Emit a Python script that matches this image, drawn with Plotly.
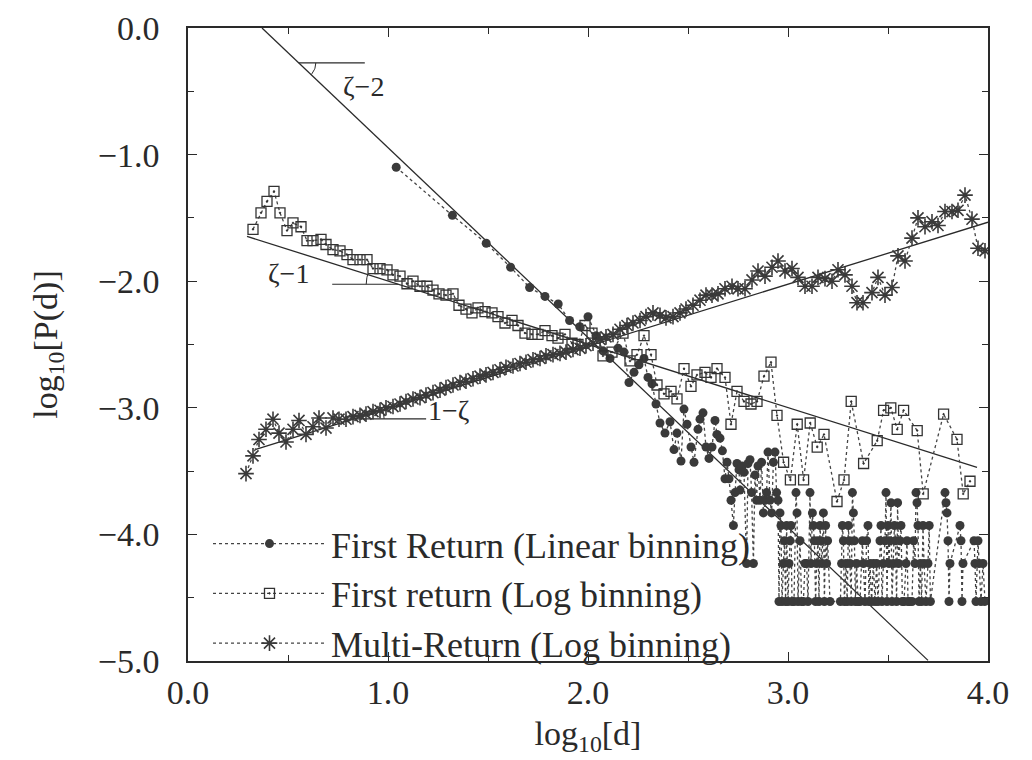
import math
import plotly.graph_objects as go

# ---------------- data ----------------
# First Return (Linear binning): filled circles
lin_x = [1.041, 1.322, 1.491, 1.613, 1.708, 1.785, 1.851, 1.908, 1.959, 2.000,
         2.040, 2.075, 2.110, 2.150, 2.180, 2.205, 2.230, 2.255, 2.280, 2.300,
         2.320, 2.340, 2.360, 2.385, 2.410, 2.430, 2.445, 2.465, 2.480, 2.495,
         2.515, 2.530, 2.550, 2.560, 2.575, 2.590, 2.605, 2.620, 2.635, 2.645,
         2.660, 2.672, 2.685, 2.695, 2.705, 2.715, 2.727, 2.735, 2.745, 2.755,
         2.760, 2.770, 2.780, 2.793, 2.800, 2.810, 2.818, 2.827, 2.835, 2.843,
         2.850, 2.860, 2.868, 2.877, 2.885, 2.893, 2.900, 2.910, 2.918, 2.927,
         2.935, 2.943, 2.950, 2.955, 2.960, 2.965, 2.970, 2.977, 2.982, 2.988,
         2.993, 3.000, 3.005, 3.010, 3.015, 3.020, 3.030, 3.040, 3.045, 3.050,
         3.060, 3.068, 3.077, 3.085, 3.093, 3.100, 3.110, 3.115, 3.122, 3.127,
         3.132, 3.138, 3.143, 3.150, 3.155, 3.160, 3.165, 3.170, 3.177, 3.182,
         3.188, 3.193, 3.198, 3.210, 3.262, 3.268, 3.272, 3.277, 3.282, 3.290,
         3.296, 3.302, 3.306, 3.310, 3.316, 3.322, 3.327, 3.332, 3.337, 3.343,
         3.350, 3.360, 3.372, 3.377, 3.385, 3.393, 3.400, 3.405, 3.410, 3.418,
         3.427, 3.435, 3.443, 3.450, 3.460, 3.465, 3.470, 3.477, 3.485, 3.490,
         3.495, 3.500, 3.505, 3.510, 3.515, 3.520, 3.527, 3.532, 3.537, 3.543,
         3.548, 3.553, 3.560, 3.565, 3.572, 3.580, 3.590, 3.595, 3.600, 3.608,
         3.620, 3.628, 3.635, 3.640, 3.645, 3.650, 3.655, 3.662, 3.668, 3.675,
         3.680, 3.690, 3.700, 3.706, 3.712, 3.785, 3.790, 3.795, 3.800, 3.805,
         3.810, 3.860, 3.865, 3.870, 3.875, 3.930, 3.935, 3.940, 3.950, 3.955,
         3.965, 3.975, 3.985]
lin_y = [-1.10, -1.48, -1.70, -1.89, -2.05, -2.12, -2.18, -2.31, -2.36, -2.28,
         -2.43, -2.55, -2.61, -2.53, -2.56, -2.80, -2.72, -2.66, -2.61, -2.76,
         -2.81, -2.97, -3.12, -3.20, -3.11, -3.33, -3.20, -3.42, -3.01, -3.13,
         -3.31, -3.43, -3.17, -3.09, -3.04, -3.31, -3.40, -3.31, -3.10, -3.21,
         -3.24, -3.34, -3.56, -3.43, -3.56, -3.73, -3.93, -3.67, -3.44, -3.49,
         -3.65, -3.46, -3.51, -4.23, -3.44, -3.41, -3.67, -4.23, -3.53, -3.73,
         -3.46, -3.73, -3.43, -3.83, -3.73, -3.67, -3.35, -3.73, -3.83, -3.43,
         -3.35, -3.67, -3.73, -4.53, -3.83, -3.93, -4.53, -4.23, -4.05, -4.53,
         -3.93, -4.53, -4.23, -4.05, -3.93, -4.53, -4.53, -3.67, -3.83, -4.53,
         -4.05, -4.53, -4.53, -4.23, -4.23, -4.53, -3.67, -4.23, -3.83, -3.93,
         -4.05, -4.53, -4.23, -4.05, -4.53, -3.93, -4.05, -4.23, -3.83, -4.53,
         -3.93, -4.23, -4.05, -4.53, -4.53, -4.23, -3.93, -4.05, -4.53, -4.23,
         -4.53, -3.93, -4.05, -4.23, -4.53, -3.67, -3.83, -4.05, -4.53, -4.23,
         -4.53, -4.53, -4.05, -4.23, -4.53, -4.05, -3.93, -4.53, -4.23, -4.53,
         -4.23, -4.53, -4.23, -4.53, -4.05, -3.93, -4.53, -4.23, -4.05, -3.67,
         -4.53, -3.93, -4.23, -4.05, -3.75, -4.53, -4.23, -3.93, -4.05, -4.53,
         -3.75, -4.23, -4.05, -3.93, -4.53, -4.53, -4.23, -4.05, -4.53, -4.53,
         -4.53, -4.05, -4.23, -3.67, -3.75, -3.93, -4.53, -4.23, -4.53, -3.93,
         -4.23, -4.53, -4.23, -3.93, -4.53, -3.67, -3.75, -3.83, -4.05, -4.53,
         -4.23, -3.93, -4.05, -4.53, -4.23, -4.05, -4.23, -4.53, -4.05, -4.23,
         -4.53, -4.23, -4.53]

# First return (Log binning): open squares
sq_x = [0.325, 0.365, 0.395, 0.430, 0.460, 0.495, 0.525, 0.565, 0.595, 0.625,
        0.665, 0.690, 0.725, 0.760, 0.795, 0.825, 0.860, 0.895, 0.925, 0.960,
        0.995, 1.025, 1.060, 1.095, 1.125, 1.160, 1.195, 1.225, 1.255, 1.290,
        1.325, 1.355, 1.390, 1.420, 1.450, 1.485, 1.520, 1.550, 1.585, 1.620,
        1.650, 1.685, 1.720, 1.750, 1.785, 1.820, 1.850, 1.885, 1.920, 1.950,
        1.985, 2.020, 2.075, 2.120, 2.175, 2.210, 2.245, 2.280, 2.315, 2.345,
        2.380, 2.415, 2.445, 2.480, 2.515, 2.545, 2.585, 2.615, 2.645, 2.685,
        2.715, 2.745, 2.780, 2.815, 2.845, 2.880, 2.915, 2.945, 2.978, 3.012,
        3.046, 3.078, 3.111, 3.146, 3.180, 3.245, 3.280, 3.316, 3.378, 3.446,
        3.478, 3.514, 3.546, 3.578, 3.646, 3.676, 3.778, 3.845, 3.876, 3.910]
sq_y = [-1.59, -1.46, -1.37, -1.29, -1.46, -1.60, -1.54, -1.57, -1.68, -1.68,
        -1.67, -1.71, -1.75, -1.76, -1.79, -1.83, -1.83, -1.83, -1.90, -1.90,
        -1.91, -1.95, -1.96, -2.02, -2.00, -2.04, -2.04, -2.07, -2.10, -2.11,
        -2.10, -2.19, -2.22, -2.25, -2.21, -2.24, -2.25, -2.28, -2.33, -2.31,
        -2.35, -2.41, -2.42, -2.42, -2.39, -2.43, -2.45, -2.42, -2.49, -2.50,
        -2.35, -2.41, -2.59, -2.56, -2.41, -2.63, -2.58, -2.43, -2.58, -2.82,
        -2.89, -2.87, -2.93, -2.69, -2.83, -2.74, -2.72, -2.76, -2.69, -2.76,
        -3.13, -2.87, -2.95, -2.97, -2.95, -2.75, -2.64, -3.06, -3.43, -3.57,
        -3.13, -3.57, -3.12, -3.31, -3.21, -3.74, -3.57, -2.95, -3.44, -3.26,
        -3.02, -3.00, -3.17, -3.02, -3.18, -3.68, -3.05, -3.25, -3.68, -3.58]

# Multi-Return (Log binning): asterisks
st_x = [0.290, 0.325, 0.355, 0.390, 0.425, 0.455, 0.490, 0.525, 0.555, 0.590,
        0.625, 0.655, 0.690, 0.725, 0.755, 0.790, 0.825, 0.860, 0.890, 0.925,
        0.960, 0.990, 1.025, 1.060, 1.090, 1.125, 1.160, 1.190, 1.225, 1.260,
        1.290, 1.325, 1.360, 1.390, 1.425, 1.460, 1.490, 1.525, 1.560, 1.590,
        1.625, 1.660, 1.690, 1.725, 1.760, 1.790, 1.825, 1.860, 1.890, 1.925,
        1.960, 1.990, 2.025, 2.060, 2.090, 2.125, 2.160, 2.195, 2.225, 2.260,
        2.290, 2.325, 2.360, 2.390, 2.425, 2.460, 2.490, 2.525, 2.560, 2.590,
        2.620, 2.650, 2.685, 2.720, 2.750, 2.785, 2.820, 2.850, 2.885, 2.920,
        2.950, 2.985, 3.020, 3.050, 3.085, 3.120, 3.150, 3.185, 3.220, 3.250,
        3.285, 3.320, 3.345, 3.375, 3.420, 3.450, 3.485, 3.520, 3.550, 3.585,
        3.620, 3.650, 3.685, 3.720, 3.750, 3.785, 3.820, 3.850, 3.885, 3.920,
        3.950, 3.985]
st_y = [-3.52, -3.38, -3.25, -3.17, -3.09, -3.20, -3.27, -3.17, -3.10, -3.21,
        -3.15, -3.08, -3.16, -3.08, -3.09, -3.09, -3.07, -3.06, -3.05, -3.03,
        -3.02, -3.00, -2.99, -2.97, -2.95, -2.93, -2.92, -2.90, -2.88, -2.86,
        -2.84, -2.82, -2.80, -2.79, -2.77, -2.75, -2.74, -2.72, -2.70, -2.68,
        -2.67, -2.65, -2.64, -2.62, -2.61, -2.59, -2.58, -2.57, -2.56, -2.54,
        -2.53, -2.51, -2.49, -2.46, -2.44, -2.42, -2.38, -2.35, -2.33, -2.31,
        -2.28, -2.25, -2.27, -2.29, -2.28, -2.25, -2.22, -2.19, -2.15, -2.11,
        -2.11, -2.10, -2.06, -2.04, -2.06, -2.06, -1.99, -1.92, -1.96, -1.89,
        -1.84, -1.92, -1.90, -1.97, -2.04, -2.04, -1.97, -1.98, -2.00, -1.91,
        -1.95, -2.04, -2.17, -2.17, -2.09, -1.97, -2.11, -2.05, -1.80, -1.84,
        -1.66, -1.50, -1.57, -1.53, -1.56, -1.45, -1.45, -1.44, -1.32, -1.51,
        -1.74, -1.76]

# Fitted power-law lines  y = icpt + slope * x
fit_labels = ["ζ−2", "ζ−1", "1−ζ"]
fit_slope = [-1.5, -0.5, 0.49]
fit_icpt = [0.555, -1.4985, -3.494]
fit_x0 = [0.37, 0.295, 0.335]
fit_x1 = [3.70, 3.945, 4.0]

series_names = ["First Return (Linear binning)", "First return (Log binning)",
                "Multi-Return (Log binning)"]

# ---------------- styling / layout ----------------
FONT = "Liberation Serif, Times New Roman, serif"
INK = "#2a2a2a"
W, H = 1032, 760
ML, MR, MT, MB = 180, 52, 20, 107
XR, YR = (0.0, 4.0), (-5.0, 0.0)
PX_X = (W - ML - MR) / (XR[1] - XR[0])
PX_Y = (H - MT - MB) / (YR[1] - YR[0])

fig = go.Figure()

# fit lines
for s, a, x0, x1 in zip(fit_slope, fit_icpt, fit_x0, fit_x1):
    fig.add_trace(go.Scatter(x=[x0, x1], y=[a + s * x0, a + s * x1], mode="lines",
                             line=dict(color=INK, width=1.3), showlegend=False,
                             hoverinfo="skip"))

# angle marks: (fit index, y level of the horizontal, length, side, arc radius px, label pos)
marks = [
    (0, -0.276, 0.33, +1, 17, (0.875, -0.46)),
    (1, -2.024, 0.33, -1, 32, (0.50, -1.94)),
    (2, -3.087, 0.36, +1, 30, (1.30, -3.02)),
]
for (i, ylev, length, side, r, lab) in marks:
    s, a = fit_slope[i], fit_icpt[i]
    xc = (ylev - a) / s
    fig.add_trace(go.Scatter(x=[xc, xc + side * length], y=[ylev, ylev], mode="lines",
                             line=dict(color=INK, width=1.2), showlegend=False,
                             hoverinfo="skip"))
    th = math.atan(s * PX_Y / PX_X)
    t0, t1 = (0.0, th) if side > 0 else (math.pi, math.pi + th)
    n = 12
    ax, ay = [], []
    for k in range(n + 1):
        t = t0 + (t1 - t0) * k / n
        ax.append(xc + r * math.cos(t) / PX_X)
        ay.append(ylev + r * math.sin(t) / PX_Y)
    fig.add_trace(go.Scatter(x=ax, y=ay, mode="lines", line=dict(color=INK, width=1.0),
                             showlegend=False, hoverinfo="skip"))
    fig.add_annotation(x=lab[0], y=lab[1], text=fit_labels[i], showarrow=False,
                       font=dict(family=FONT, size=28, color=INK))

dot_line = dict(color="#444444", width=1.3, dash="dot")
fig.add_trace(go.Scatter(x=lin_x, y=lin_y, mode="lines+markers", name=series_names[0],
                         line=dot_line,
                         marker=dict(symbol="circle", size=9, color="#3a3a3a")))
fig.add_trace(go.Scatter(x=sq_x, y=sq_y, mode="lines+markers", name=series_names[1],
                         line=dot_line,
                         marker=dict(symbol="square-open-dot", size=10, color="#333333",
                                     line=dict(width=1.3, color="#333333"))))
fig.add_trace(go.Scatter(x=st_x, y=st_y, mode="lines+markers", name=series_names[2],
                         line=dot_line,
                         marker=dict(symbol="asterisk-open", size=13, color="#3a3a3a",
                                     line=dict(width=1.6, color="#3a3a3a"))))

axis_common = dict(showline=True, linecolor=INK, linewidth=1.5, mirror="ticks",
                   ticks="inside", ticklen=9, tickwidth=1.3, tickcolor=INK,
                   showgrid=False, zeroline=False, dtick=1.0, tickformat=".1f",
                   ticklabeloverflow="allow", automargin=False,
                   tickfont=dict(family=FONT, size=34, color=INK),
                   minor=dict(dtick=0.5, ticks="inside", ticklen=6, tickwidth=1.2,
                              tickcolor=INK, showgrid=False))

fig.update_xaxes(range=list(XR), tick0=0, ticklabelstandoff=0,
                 title=dict(text="log<sub>10</sub>[d]", standoff=12,
                            font=dict(family=FONT, size=34, color=INK)),
                 **axis_common)
fig.update_yaxes(range=list(YR), tick0=0, ticklabelstandoff=20,
                 title=dict(text="log<sub>10</sub>[P(d)]", standoff=30,
                            font=dict(family=FONT, size=34, color=INK)),
                 **axis_common)

fig.update_layout(
    width=W, height=H,
    margin=dict(l=ML, r=MR, t=MT, b=MB, autoexpand=False),
    paper_bgcolor="white", plot_bgcolor="white",
    font=dict(family=FONT, color=INK),
    legend=dict(x=0.025, y=-0.02, xanchor="left", yanchor="bottom",
                bgcolor="rgba(0,0,0,0)", borderwidth=0, itemwidth=113,
                font=dict(family=FONT, size=36, color=INK), tracegroupgap=0),
)

fig.write_html("out.html")
